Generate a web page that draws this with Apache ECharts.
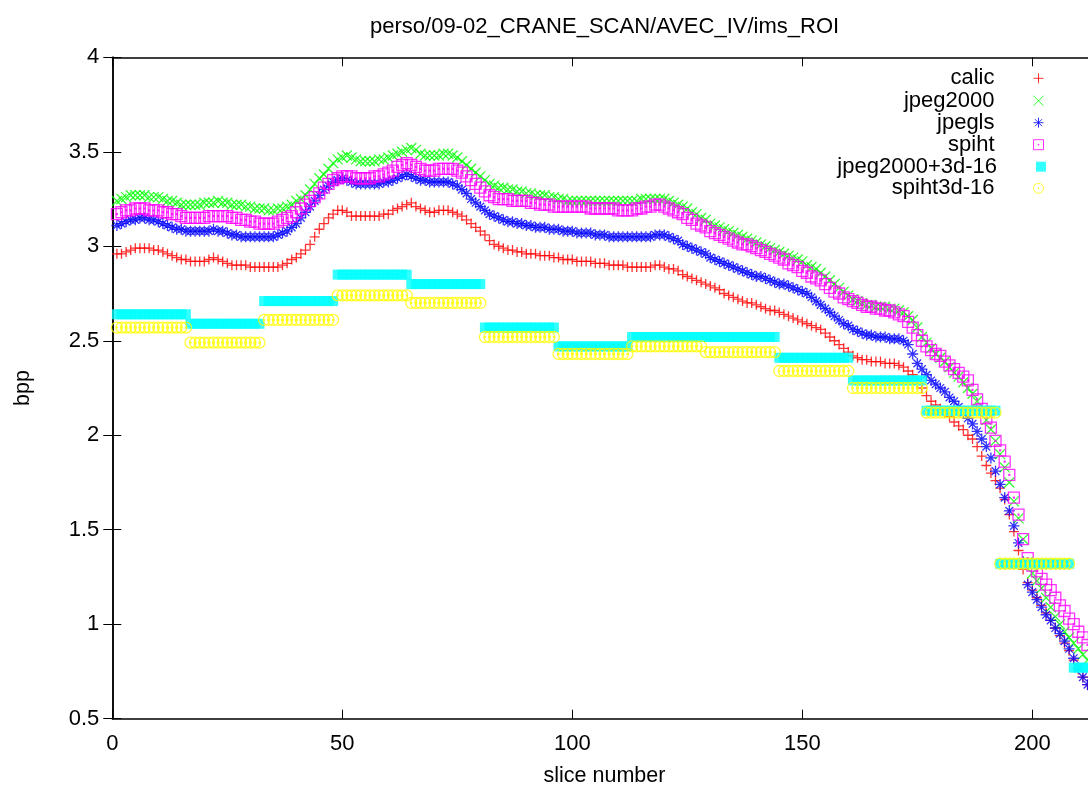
<!DOCTYPE html>
<html><head><meta charset="utf-8">
<script src="https://cdn.jsdelivr.net/npm/echarts@6/dist/echarts.min.js"></script>
<style>html,body{margin:0;padding:0;background:#fff}#c{width:1088px;height:785px}</style>
</head><body><div id="c"></div>
<script>
const titleText = 'perso/09-02_CRANE_SCAN/AVEC_IV/ims_ROI';
const xName = 'slice number';
const yName = 'bpp';
const seriesNames = ['calic', 'jpeg2000', 'jpegls', 'spiht', 'jpeg2000+3d-16', 'spiht3d-16'];
const firstSlice = 1;
const blockSize = 16;

const calic = [2.96,2.96,2.97,2.98,2.99,2.99,2.99,2.99,2.98,2.98,
 2.97,2.96,2.95,2.94,2.93,2.93,2.92,2.92,2.92,2.92,
 2.93,2.94,2.93,2.92,2.91,2.90,2.90,2.90,2.90,2.89,
 2.89,2.89,2.89,2.89,2.89,2.89,2.90,2.91,2.93,2.94,
 2.96,2.98,3.01,3.05,3.09,3.12,3.15,3.17,3.19,3.19,
 3.18,3.16,3.16,3.16,3.16,3.16,3.16,3.16,3.17,3.17,
 3.19,3.20,3.21,3.22,3.23,3.21,3.20,3.19,3.18,3.18,
 3.19,3.19,3.19,3.18,3.17,3.16,3.14,3.12,3.10,3.08,
 3.06,3.03,3.01,3.00,2.99,2.98,2.98,2.97,2.97,2.96,
 2.96,2.96,2.95,2.95,2.95,2.94,2.94,2.93,2.93,2.93,
 2.92,2.92,2.92,2.92,2.91,2.91,2.91,2.90,2.90,2.90,
 2.90,2.89,2.89,2.89,2.89,2.89,2.89,2.90,2.90,2.89,
 2.88,2.88,2.87,2.85,2.84,2.83,2.82,2.81,2.80,2.79,
 2.78,2.77,2.75,2.74,2.73,2.72,2.71,2.70,2.70,2.69,
 2.68,2.67,2.66,2.66,2.65,2.64,2.63,2.62,2.61,2.60,
 2.59,2.58,2.57,2.56,2.54,2.52,2.50,2.48,2.46,2.44,
 2.42,2.41,2.40,2.40,2.39,2.39,2.39,2.38,2.38,2.38,
 2.37,2.36,2.34,2.32,2.28,2.25,2.21,2.18,2.16,2.14,
 2.12,2.10,2.07,2.05,2.03,2.00,1.98,1.94,1.89,1.84,
 1.80,1.76,1.72,1.66,1.58,1.49,1.39,1.29,1.22,1.18,
 1.14,1.10,1.06,1.02,0.98,0.94,0.90,0.86,0.81,0.76,
 0.72,0.68];

const jpeg2000 = [3.24,3.25,3.26,3.27,3.27,3.27,3.27,3.26,3.26,3.26,
 3.25,3.24,3.24,3.23,3.22,3.22,3.22,3.22,3.22,3.23,
 3.23,3.23,3.24,3.23,3.23,3.22,3.22,3.22,3.21,3.21,
 3.20,3.20,3.20,3.19,3.19,3.20,3.20,3.21,3.22,3.24,
 3.25,3.27,3.30,3.33,3.36,3.38,3.41,3.44,3.46,3.47,
 3.48,3.47,3.46,3.45,3.45,3.45,3.45,3.46,3.46,3.47,
 3.48,3.49,3.50,3.51,3.52,3.51,3.49,3.48,3.48,3.48,
 3.48,3.49,3.49,3.48,3.47,3.45,3.43,3.41,3.39,3.37,
 3.35,3.33,3.32,3.31,3.31,3.30,3.30,3.29,3.29,3.28,
 3.28,3.27,3.27,3.27,3.26,3.26,3.25,3.25,3.24,3.24,
 3.24,3.24,3.24,3.24,3.24,3.24,3.24,3.24,3.24,3.24,
 3.24,3.24,3.24,3.24,3.25,3.25,3.25,3.25,3.25,3.25,
 3.24,3.23,3.22,3.21,3.20,3.18,3.17,3.15,3.14,3.12,
 3.11,3.10,3.09,3.08,3.07,3.06,3.05,3.04,3.03,3.02,
 3.01,3.00,2.99,2.98,2.97,2.96,2.95,2.94,2.93,2.92,
 2.90,2.89,2.88,2.86,2.84,2.82,2.80,2.78,2.76,2.74,
 2.72,2.71,2.70,2.69,2.69,2.68,2.68,2.68,2.67,2.67,
 2.66,2.65,2.63,2.61,2.57,2.52,2.49,2.46,2.43,2.41,
 2.39,2.36,2.33,2.31,2.28,2.25,2.22,2.18,2.13,2.08,
 2.03,1.97,1.90,1.83,1.75,1.65,1.56,1.45,1.33,1.27,
 1.23,1.19,1.14,1.09,1.04,1.00,0.96,0.93,0.90,0.87,
 0.84,0.81];

const jpegls = [3.11,3.12,3.13,3.14,3.14,3.15,3.15,3.14,3.14,3.13,
 3.12,3.11,3.10,3.09,3.09,3.08,3.08,3.08,3.08,3.08,
 3.08,3.09,3.08,3.08,3.07,3.06,3.06,3.05,3.05,3.05,
 3.05,3.05,3.05,3.05,3.05,3.06,3.07,3.08,3.10,3.12,
 3.15,3.18,3.21,3.24,3.27,3.30,3.32,3.34,3.35,3.36,
 3.35,3.34,3.33,3.33,3.33,3.33,3.33,3.33,3.34,3.34,
 3.35,3.36,3.37,3.38,3.37,3.36,3.35,3.35,3.34,3.34,
 3.34,3.34,3.34,3.33,3.32,3.30,3.28,3.25,3.23,3.21,
 3.19,3.17,3.16,3.15,3.14,3.13,3.13,3.12,3.12,3.11,
 3.11,3.10,3.10,3.10,3.09,3.09,3.09,3.08,3.08,3.08,
 3.07,3.07,3.07,3.07,3.06,3.06,3.06,3.05,3.05,3.05,
 3.05,3.05,3.05,3.05,3.05,3.05,3.05,3.06,3.06,3.06,
 3.05,3.04,3.03,3.01,3.00,2.99,2.98,2.97,2.96,2.94,
 2.93,2.92,2.91,2.90,2.89,2.88,2.87,2.86,2.85,2.84,
 2.84,2.83,2.82,2.81,2.80,2.80,2.79,2.78,2.77,2.76,
 2.75,2.73,2.71,2.69,2.67,2.65,2.63,2.61,2.59,2.58,
 2.56,2.55,2.54,2.53,2.53,2.52,2.52,2.52,2.51,2.51,
 2.51,2.50,2.48,2.43,2.38,2.35,2.32,2.29,2.27,2.25,
 2.23,2.20,2.18,2.15,2.12,2.09,2.06,2.02,1.98,1.94,
 1.88,1.81,1.74,1.67,1.60,1.52,1.43,1.33,1.21,1.17,
 1.13,1.09,1.05,1.02,0.98,0.95,0.91,0.87,0.82,0.77,
 0.72,0.68];

const spiht = [3.17,3.18,3.19,3.19,3.20,3.20,3.20,3.19,3.19,3.19,
 3.18,3.18,3.17,3.17,3.16,3.15,3.15,3.15,3.15,3.15,
 3.16,3.16,3.16,3.16,3.16,3.15,3.15,3.14,3.14,3.13,
 3.13,3.12,3.12,3.12,3.12,3.13,3.14,3.15,3.16,3.18,
 3.20,3.22,3.24,3.26,3.28,3.31,3.33,3.35,3.36,3.37,
 3.37,3.37,3.36,3.36,3.36,3.36,3.37,3.37,3.38,3.39,
 3.40,3.42,3.43,3.44,3.43,3.42,3.41,3.40,3.40,3.40,
 3.41,3.41,3.41,3.41,3.40,3.39,3.37,3.35,3.33,3.31,
 3.29,3.27,3.26,3.25,3.25,3.25,3.24,3.24,3.24,3.24,
 3.23,3.23,3.22,3.22,3.22,3.21,3.21,3.21,3.21,3.21,
 3.21,3.21,3.21,3.20,3.20,3.20,3.20,3.20,3.20,3.19,
 3.19,3.19,3.19,3.20,3.20,3.21,3.21,3.22,3.22,3.21,
 3.20,3.19,3.18,3.17,3.15,3.14,3.12,3.11,3.10,3.08,
 3.07,3.06,3.05,3.04,3.03,3.02,3.01,3.01,3.00,2.99,
 2.98,2.97,2.96,2.95,2.94,2.93,2.91,2.90,2.89,2.87,
 2.86,2.84,2.83,2.82,2.80,2.78,2.76,2.75,2.73,2.72,
 2.71,2.70,2.69,2.68,2.68,2.67,2.67,2.66,2.66,2.65,
 2.64,2.63,2.60,2.57,2.53,2.50,2.47,2.45,2.43,2.42,
 2.39,2.37,2.35,2.33,2.31,2.29,2.24,2.19,2.14,2.09,
 2.04,1.97,1.92,1.86,1.79,1.67,1.58,1.45,1.35,1.31,
 1.28,1.24,1.21,1.18,1.14,1.10,1.07,1.03,1.00,0.96,
 0.93,0.89];

// one value per block of 16 slices (slices 1-16, 17-32, ...)
const jpeg2000_3d16 = [2.64, 2.59, 2.71, 2.85, 2.80, 2.57, 2.47, 2.52, 2.52, 2.41, 2.29, 2.13, 1.32, 0.77];
const spiht3d16 = [2.57, 2.49, 2.61, 2.74, 2.70, 2.52, 2.43, 2.47, 2.44, 2.34, 2.25, 2.12, 1.32, null];

const xMin = 0, xMax = 214, xStep = 50;
const yMin = 0.5, yMax = 4, yStep = 0.5;

const colors = ['#ff0000', '#00ff00', '#0000ff', '#ff00ff', '#00ffff', '#ffff00'];
const symPlus = 'path://M0,5L10,5M5,0L5,10';
const symCross = 'path://M0,0L10,10M10,0L0,10';
const symStar = 'path://M0,5L10,5M5,0L5,10M1.5,1.5L8.5,8.5M8.5,1.5L1.5,8.5';
const symBoxDot = 'path://M0,0L10,0L10,10L0,10Z M4.6,4.6L5.4,4.6L5.4,5.4L4.6,5.4Z';
const symCircDot = 'path://M10,5A5,5,0,1,1,0,5A5,5,0,1,1,10,5Z M4.6,4.6L5.4,4.6L5.4,5.4L4.6,5.4Z';
const symbols = [symPlus, symCross, symStar, symBoxDot, 'rect', symCircDot];
const symSizes = [10, 10, 11, 11, 10, 11];

function toPoints(arr) {
  return arr.map((v, i) => [firstSlice + i, v]);
}
function blocksToPoints(blocks, n) {
  const out = [];
  for (let i = 0; i < n; i++) {
    const v = blocks[Math.floor(i / blockSize)];
    out.push([firstSlice + i, v == null ? null : v]);
  }
  return out.filter(p => p[1] != null);
}

const N = calic.length;
const dataSets = [toPoints(calic), toPoints(jpeg2000), toPoints(jpegls), toPoints(spiht),
  blocksToPoints(jpeg2000_3d16, N), blocksToPoints(spiht3d16, N)];

const FONT = "'Liberation Sans', Arial, Helvetica, sans-serif";

const series = seriesNames.map((name, k) => {
  const filled = symbols[k] === 'rect';
  return {
    name, type: 'scatter', data: dataSets[k],
    xAxisIndex: 0, yAxisIndex: 0,
    symbol: symbols[k], symbolSize: symSizes[k],
    itemStyle: filled ? { color: colors[k], borderWidth: 0 }
                      : { color: 'none', borderColor: colors[k], borderWidth: 1.3 },
    emphasis: { disabled: true },
    animation: false, clip: true
  };
});

const legendCenters = [78.3, 100.7, 122.7, 144.7, 166.7, 188.3];
const legends = seriesNames.map((name, k) => ({
  data: [name], right: 42, top: legendCenters[k] - 11, padding: 0,
  orient: 'vertical', align: 'right', itemWidth: 10, itemHeight: 10,
  selectedMode: false,
  itemStyle: symbols[k] === 'rect' ? {} : { borderWidth: 1 },
  textStyle: { fontFamily: FONT, fontSize: 22, color: '#000', lineHeight: 22, padding: [0, 34, 0, 0] }
}));

const axisLineStyle = { color: '#000', width: 1.5 };
const chart = echarts.init(document.getElementById('c'), null, { renderer: 'canvas' });
chart.setOption({
  animation: false,
  backgroundColor: '#fff',
  title: { text: titleText, left: 365, top: 11,
    textStyle: { fontFamily: FONT, fontSize: 22, fontWeight: 'normal', color: '#000' } },
  legend: legends,
  grid: { left: 112.3, top: 57.3, bottom: 66.3, right: -8.7, containLabel: false, outerBoundsMode: 'none' },
  xAxis: [{
    type: 'value', min: xMin, max: xMax, interval: xStep, position: 'bottom',
    name: xName, nameLocation: 'middle', nameGap: 46,
    nameTextStyle: { fontFamily: FONT, fontSize: 21.5, color: '#000' },
    axisLine: { show: true, lineStyle: axisLineStyle },
    axisTick: { show: true, inside: true, length: 9, lineStyle: { color: '#000', width: 1 } },
    axisLabel: { show: true, margin: 14, showMaxLabel: false, fontFamily: FONT, fontSize: 22, color: '#000' },
    splitLine: { show: false }
  }, {
    type: 'value', min: xMin, max: xMax, interval: xStep, position: 'top',
    axisLine: { show: true, lineStyle: axisLineStyle },
    axisTick: { show: true, inside: true, length: 9, lineStyle: { color: '#000', width: 1 } },
    axisLabel: { show: false }, splitLine: { show: false }
  }],
  yAxis: [{
    type: 'value', min: yMin, max: yMax, interval: yStep, position: 'left',
    name: yName, nameLocation: 'middle', nameGap: 78, nameRotate: 90,
    nameTextStyle: { fontFamily: FONT, fontSize: 21.5, color: '#000' },
    axisLine: { show: true, lineStyle: axisLineStyle },
    axisTick: { show: true, inside: true, length: 9, lineStyle: { color: '#000', width: 1 } },
    axisLabel: { show: true, margin: 13, fontFamily: FONT, fontSize: 22, color: '#000' },
    splitLine: { show: false }
  }, {
    type: 'value', min: yMin, max: yMax, interval: yStep, position: 'right',
    axisLine: { show: true, lineStyle: axisLineStyle },
    axisTick: { show: true, inside: true, length: 9, lineStyle: { color: '#000', width: 1 } },
    axisLabel: { show: false }, splitLine: { show: false }
  }],
  series
});
</script></body></html>
